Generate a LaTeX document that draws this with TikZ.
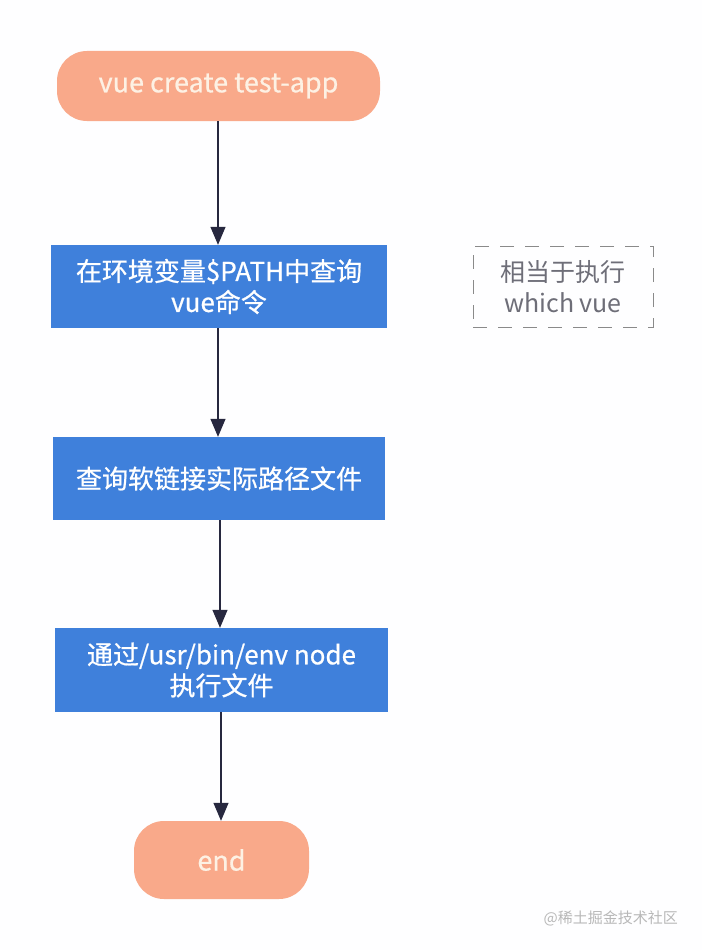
\documentclass[tikz,border=0pt]{standalone}
\usepackage{fontspec}
\newfontfamily\cjk{Noto Sans CJK SC}
\newfontfamily\cjkb[FakeBold=0.7]{Noto Sans CJK SC}
\usetikzlibrary{arrows.meta}
\definecolor{salmon}{HTML}{F9A98A}
\definecolor{salmontext}{HTML}{FDF1E4}
\definecolor{boxblue}{HTML}{3F80DB}
\definecolor{arrowc}{HTML}{27283F}
\definecolor{noteg}{HTML}{6E6E78}
\definecolor{dashg}{HTML}{8A8A8A}
\definecolor{wm}{HTML}{B8B8B8}
\tikzset{
  x=1pt,y=-1pt,
  term/.style={fill=salmon,draw=none,rounded corners=30pt,text=salmontext,font=\cjkb\fontsize{27}{31}\selectfont,inner sep=0pt,align=center},
  proc/.style={fill=boxblue,draw=none,text=white,font=\cjkb\fontsize{26}{31}\selectfont,inner sep=0pt,align=center},
  flow/.style={draw=arrowc,line width=1.3pt,-{Triangle[length=18pt,width=15pt]}},
  note/.style={draw=dashg,line width=0.9pt,dash pattern=on 14pt off 11pt,text=noteg,font=\cjk\fontsize{25}{31}\selectfont,inner sep=0pt,align=center}
}
\begin{document}
\begin{tikzpicture}
\fill[white!99.6!blue] (0,0) rectangle (702,950);
\useasboundingbox (0,0) rectangle (702,950);
\node[term,minimum width=323pt,minimum height=70pt] (start) at (218.5,86) {vue create test-app};
\node[proc,minimum width=336pt,minimum height=83pt] (p1) at (219,286.5) {在环境变量\$PATH中查询\\vue命令};
\node[proc,minimum width=332pt,minimum height=83pt] (p2) at (219,478.5) {查询软链接实际路径文件};
\node[proc,minimum width=333pt,minimum height=84pt] (p3) at (221.5,670) {通过/usr/bin/env node\\执行文件};
\node[term,minimum width=175pt,minimum height=78pt] (end) at (221.5,860) {end};
\node[note,minimum width=180pt,minimum height=81pt] (n) at (563,286.5) {相当于执行\\which vue};
\node[font=\cjk\fontsize{15}{17}\selectfont,text=wm,anchor=east,inner sep=0pt] (wmk) at (678,918) {@稀土掘金技术社区};
\draw[flow] (start.south -| 218,0) -- (p1.north -| 218,0);
\draw[flow] (p1.south -| 218,0) -- (p2.north -| 218,0);
\draw[flow] (p2.south -| 220,0) -- (p3.north -| 220,0);
\draw[flow] (p3.south -| 221,0) -- (end.north -| 221,0);
\end{tikzpicture}
\end{document}
